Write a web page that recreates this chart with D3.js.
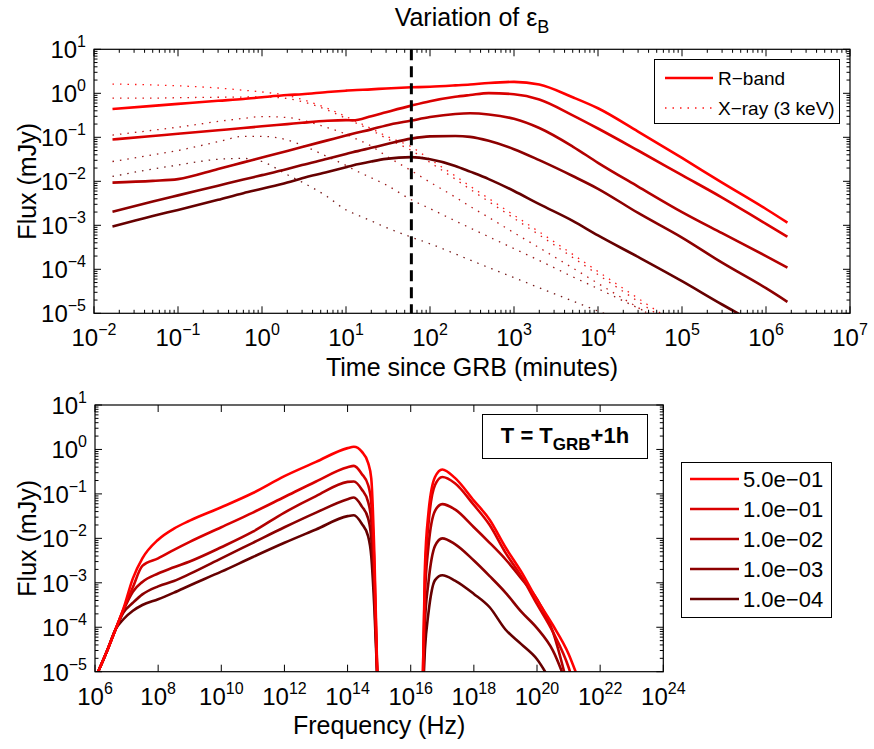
<!DOCTYPE html>
<html><head><meta charset="utf-8">
<script src="https://cdn.jsdelivr.net/npm/d3@7"></script>
<style>
body{margin:0;background:#fff}
text{font-family:"Liberation Sans",Arial,Helvetica,sans-serif;fill:#000}
</style>
</head><body>
<svg id="c" width="874" height="749"></svg>
<script>
// ---------------- DATA ----------------
const epsLabels = ["5.0e\u221201","1.0e\u221201","1.0e\u221202","1.0e\u221203","1.0e\u221204"];
const seriesColors = ["#ff0000","#d90000","#b30000","#8c0000","#660000"];

// light curves: time since GRB (minutes)
const timeMin = [0.0166,0.05,0.1,0.3,0.6,1,2,3,6,10,12,20,30,60,100,200,300,500,1000,2000,5000,1e4,3e4,1e5,3e5,1e6,1.8e6];
// R-band, log10 flux (mJy)
const logR_eps5e1 = [-0.357,-0.285,-0.24,-0.17,-0.13,-0.09,-0.04,-0.02,0.03,0.06,0.07,0.09,0.11,0.136,0.15,0.18,0.2,0.235,0.26,0.2,-0.09,-0.34,-0.87,-1.47,-2.03,-2.63,-2.94];
const logR_eps1e1 = [-1.05,-0.97,-0.92,-0.84,-0.79,-0.75,-0.70,-0.67,-0.625,-0.61,-0.615,-0.52,-0.43,-0.28,-0.18,-0.08,-0.04,0.005,-0.02,-0.14,-0.5,-0.8,-1.3,-1.86,-2.37,-2.97,-3.26];
const logR_eps1e2 = [-2.03,-1.99,-1.95,-1.72,-1.57,-1.46,-1.31,-1.22,-1.07,-0.96,-0.92,-0.82,-0.73,-0.62,-0.54,-0.47,-0.455,-0.48,-0.58,-0.79,-1.21,-1.58,-2.12,-2.70,-3.18,-3.70,-3.96];
const logR_eps1e3 = [-2.69,-2.46,-2.32,-2.10,-1.96,-1.86,-1.72,-1.63,-1.49,-1.38,-1.34,-1.24,-1.16,-1.03,-0.98,-0.97,-0.99,-1.08,-1.27,-1.52,-1.88,-2.17,-2.72,-3.28,-3.85,-4.43,-4.74];
const logR_eps1e4 = [-3.03,-2.79,-2.65,-2.42,-2.27,-2.17,-2.03,-1.93,-1.79,-1.68,-1.64,-1.55,-1.49,-1.45,-1.50,-1.65,-1.78,-1.95,-2.22,-2.52,-2.9,-3.23,-3.72,-4.27,-4.8,-5.35,-5.6];
// X-ray (3 keV), log10 flux (mJy)
const logX_eps5e1 = [0.21,0.19,0.17,0.12,0.07,0.03,-0.05,-0.14,-0.34,-0.53,-0.6,-0.8,-0.97,-1.22,-1.5,-1.88,-2.11,-2.39,-2.77,-3.15,-3.66,-4.05,-4.66,-5.32,null,null,null];
const logX_eps1e1 = [-0.11,-0.11,-0.10,-0.09,-0.085,-0.08,-0.12,-0.19,-0.38,-0.57,-0.64,-0.84,-1.02,-1.3,-1.57,-1.95,-2.18,-2.46,-2.84,-3.22,-3.73,-4.12,-4.73,-5.4,null,null,null];
const logX_eps1e2 = [-0.95,-0.84,-0.77,-0.64,-0.57,-0.53,-0.55,-0.61,-0.78,-0.93,-1.0,-1.2,-1.42,-1.76,-2.02,-2.36,-2.57,-2.82,-3.17,-3.51,-3.97,-4.32,-4.87,-5.47,null,null,null];
const logX_eps1e3 = [-1.55,-1.4,-1.3,-1.1,-0.98,-0.98,-1.06,-1.18,-1.44,-1.64,-1.72,-1.92,-2.08,-2.42,-2.62,-2.9,-3.06,-3.26,-3.53,-3.8,-4.17,-4.44,-4.88,-5.35,null,null,null];
const logX_eps1e4 = [-1.89,-1.72,-1.63,-1.5,-1.48,-1.55,-1.85,-2.02,-2.35,-2.65,-2.72,-2.9,-3.05,-3.27,-3.42,-3.65,-3.79,-3.96,-4.19,-4.42,-4.72,-4.95,-5.3,null,null,null,null];
const obsTimeMin = 60; // T = T_GRB + 1h

// spectra at T = T_GRB + 1h : log10 frequency (Hz), log10 flux (mJy)
const logNuOpt = [6.1,6.4,6.65,6.9,7.2,7.5,8.0,8.5,9.0,10.0,11.0,12.0,13.0,14.0,14.2,14.45,14.65,14.75,14.85,14.95];
const specOpt_eps5e1 = [-5.0,-4.5,-4.05,-3.58,-2.9,-2.45,-2.03,-1.78,-1.6,-1.3,-0.98,-0.6,-0.28,0.03,0.06,-0.05,-0.3,-0.65,-2.4,-5.3];
const specOpt_eps1e1 = [-5.0,-4.5,-4.05,-3.6,-3.1,-2.62,-2.45,-2.26,-2.08,-1.75,-1.42,-1.07,-0.72,-0.4,-0.37,-0.55,-0.8,-1.2,-2.7,-5.3];
const specOpt_eps1e2 = [-5.0,-4.5,-4.05,-3.62,-3.2,-2.98,-2.79,-2.65,-2.52,-2.2,-1.85,-1.42,-1.05,-0.73,-0.72,-0.9,-1.18,-1.6,-3.0,-5.3];
const specOpt_eps1e3 = [-5.0,-4.5,-4.05,-3.67,-3.45,-3.26,-3.08,-2.96,-2.8,-2.45,-2.1,-1.75,-1.42,-1.12,-1.08,-1.28,-1.55,-2.0,-3.3,-5.3];
const specOpt_eps1e4 = [-5.0,-4.5,-4.05,-3.82,-3.63,-3.5,-3.37,-3.22,-3.06,-2.75,-2.42,-2.1,-1.8,-1.5,-1.48,-1.67,-1.95,-2.4,-3.6,-5.3];
const logNuX = [16.38,16.45,16.56,16.77,17.0,17.4,18.0,18.5,19.0,19.5,20.0,20.5,21.0,21.25];
const specX_eps5e1 = [-5.3,-2.64,-1.44,-0.62,-0.45,-0.64,-1.15,-1.58,-2.2,-2.75,-3.38,-3.95,-4.6,-5.05];
const specX_eps1e1 = [-5.3,-2.9,-1.7,-0.8,-0.62,-0.76,-1.25,-1.7,-2.32,-2.85,-3.48,-4.1,-4.9,-5.5];
const specX_eps1e2 = [-5.5,-3.3,-2.2,-1.38,-1.23,-1.35,-1.75,-2.1,-2.47,-2.9,-3.37,-4.1,-5.4,null];
const specX_eps1e3 = [-5.5,-3.9,-3.0,-2.17,-2.0,-2.13,-2.5,-2.85,-3.22,-3.65,-4.02,-4.52,-5.4,null];
const specX_eps1e4 = [-5.6,-4.5,-3.69,-2.94,-2.83,-2.95,-3.25,-3.55,-4.05,-4.38,-4.72,-5.3,null,null];

const topXTickExp = [-2,-1,0,1,2,3,4,5,6,7];
const topYTickExp = [-5,-4,-3,-2,-1,0,1];
const botXTickExp = [6,8,10,12,14,16,18,20,22,24];
const botYTickExp = [-5,-4,-3,-2,-1,0,1];

// ---------------- DRAW ----------------
const svg = d3.select("#c");
const P = v => (v === null ? null : Math.pow(10, v));

const boxT = {l:94, r:850, t:49.3, b:313.3};
const boxB = {l:95, r:663.3, t:405, b:671.7};

const xT = d3.scaleLog().domain([1e-2,1e7]).range([boxT.l, boxT.r]);
const yT = d3.scaleLog().domain([1e-5,1e1]).range([boxT.b, boxT.t]);
const xB = d3.scaleLog().domain([1e6,1e24]).range([boxB.l, boxB.r]);
const yB = d3.scaleLog().domain([1e-5,1e1]).range([boxB.b, boxB.t]);

const defs = svg.append("defs");
defs.append("clipPath").attr("id","clipT").append("rect")
  .attr("x",boxT.l).attr("y",boxT.t).attr("width",boxT.r-boxT.l).attr("height",boxT.b-boxT.t);
defs.append("clipPath").attr("id","clipB").append("rect")
  .attr("x",boxB.l).attr("y",boxB.t).attr("width",boxB.r-boxB.l).attr("height",boxB.b-boxB.t);

const TICK_FS = 24, SUP_FS = 16, SUP_DY = 11, LABEL_FS = 25;

function powLabel(g, x, y, exp, anchor){
  const t = g.append("text").attr("x",x).attr("y",y).attr("text-anchor",anchor)
    .style("font-size",TICK_FS+"px");
  t.append("tspan").text("10");
  t.append("tspan").attr("dy",-SUP_DY).style("font-size",SUP_FS+"px")
    .text(exp < 0 ? "\u2212"+(-exp) : String(exp));
  return t;
}

function frame(box, x, y, xExps, yExps, xMinor, yMinor){
  const g = svg.append("g");
  const M = 7, m = 3.5;
  const lines = [];
  const xd = x.domain().map(Math.log10);
  for (let e = Math.round(xd[0]); e <= Math.round(xd[1]); e++){
    if (xExps.includes(e)) lines.push([x(Math.pow(10,e)), M, "x"]);
    if (xMinor && e < Math.round(xd[1])) for (let k=2;k<=9;k++) lines.push([x(k*Math.pow(10,e)), m, "x"]);
  }
  const yd = y.domain().map(Math.log10);
  for (let e = Math.round(yd[0]); e <= Math.round(yd[1]); e++){
    if (yExps.includes(e)) lines.push([y(Math.pow(10,e)), M, "y"]);
    if (yMinor && e < Math.round(yd[1])) for (let k=2;k<=9;k++) lines.push([y(k*Math.pow(10,e)), m, "y"]);
  }
  lines.forEach(([p,len,ax])=>{
    if (ax==="x"){
      g.append("line").attr("x1",p).attr("x2",p).attr("y1",box.b).attr("y2",box.b-len);
      g.append("line").attr("x1",p).attr("x2",p).attr("y1",box.t).attr("y2",box.t+len);
    } else {
      g.append("line").attr("y1",p).attr("y2",p).attr("x1",box.l).attr("x2",box.l+len);
      g.append("line").attr("y1",p).attr("y2",p).attr("x1",box.r).attr("x2",box.r-len);
    }
  });
  g.selectAll("line").attr("stroke","#000").attr("stroke-width",1);
  g.append("rect").attr("x",box.l).attr("y",box.t).attr("width",box.r-box.l).attr("height",box.b-box.t)
    .attr("fill","none").attr("stroke","#000").attr("stroke-width",1.2);
  xExps.forEach(e=> powLabel(g, x(Math.pow(10,e)), box.b+33, e, "middle"));
  yExps.forEach(e=> powLabel(g, box.l-8, y(Math.pow(10,e))+9, e, "end"));
  return g;
}

// ---------- top panel ----------
const gT = svg.append("g").attr("clip-path","url(#clipT)");
const lineT = d3.line().defined(d=>d[1]!==null)
  .x(d=>xT(d[0])).y(d=>yT(d[1])).curve(d3.curveMonotoneX);
const rSeries = [logR_eps5e1,logR_eps1e1,logR_eps1e2,logR_eps1e3,logR_eps1e4];
const xSeries = [logX_eps5e1,logX_eps1e1,logX_eps1e2,logX_eps1e3,logX_eps1e4];
xSeries.forEach((s,i)=>{
  gT.append("path").datum(timeMin.map((t,j)=>[t,P(s[j])]))
    .attr("d",lineT).attr("fill","none").attr("stroke",seriesColors[i])
    .attr("stroke-width",1.3).attr("stroke-dasharray","1.5,6").attr("opacity",0.9);
});
rSeries.forEach((s,i)=>{
  gT.append("path").datum(timeMin.map((t,j)=>[t,P(s[j])]))
    .attr("d",lineT).attr("fill","none").attr("stroke",seriesColors[i])
    .attr("stroke-width",2.6).attr("stroke-linejoin","round");
});
gT.append("line").attr("x1",xT(obsTimeMin)).attr("x2",xT(obsTimeMin))
  .attr("y1",boxT.t).attr("y2",boxT.b).attr("stroke","#000").attr("stroke-width",3)
  .attr("stroke-dasharray","11,6");

frame(boxT, xT, yT, topXTickExp, topYTickExp, true, true);

// top legend
const lg = svg.append("g");
lg.append("rect").attr("x",654.5).attr("y",59.5).attr("width",185).attr("height",64)
  .attr("fill","#fff").attr("stroke","#000").attr("stroke-width",1);
lg.append("line").attr("x1",665).attr("x2",713).attr("y1",78).attr("y2",78)
  .attr("stroke",seriesColors[0]).attr("stroke-width",2.6);
lg.append("line").attr("x1",665).attr("x2",713).attr("y1",108).attr("y2",108)
  .attr("stroke",seriesColors[0]).attr("stroke-width",1.3).attr("stroke-dasharray","1.5,6").attr("opacity",0.9);
lg.append("text").attr("x",718).attr("y",85).style("font-size","19px").text("R\u2212band");
lg.append("text").attr("x",718).attr("y",115).style("font-size","19px").text("X\u2212ray (3 keV)");

// title
const tt = svg.append("text").attr("x",(boxT.l+boxT.r)/2).attr("y",26).attr("text-anchor","middle")
  .style("font-size","25px");
tt.append("tspan").text("Variation of \u03b5");
tt.append("tspan").attr("dy",7).style("font-size","18px").text("B");

svg.append("text").attr("x",(boxT.l+boxT.r)/2).attr("y",376).attr("text-anchor","middle")
  .style("font-size",LABEL_FS+"px").text("Time since GRB (minutes)");
svg.append("text").attr("transform",`translate(36,${(boxT.t+boxT.b)/2}) rotate(-90)`)
  .attr("text-anchor","middle").style("font-size",LABEL_FS+"px").text("Flux (mJy)");

// ---------- bottom panel ----------
const gB = svg.append("g").attr("clip-path","url(#clipB)");
const lineB = d3.line().defined(d=>d[1]!==null)
  .x(d=>xB(d[0])).y(d=>yB(d[1])).curve(d3.curveMonotoneX);
const optSeries = [specOpt_eps5e1,specOpt_eps1e1,specOpt_eps1e2,specOpt_eps1e3,specOpt_eps1e4];
const xrSeries = [specX_eps5e1,specX_eps1e1,specX_eps1e2,specX_eps1e3,specX_eps1e4];
for (let i=4;i>=0;i--){
  gB.append("path").datum(logNuOpt.map((n,j)=>[P(n),P(optSeries[i][j])]))
    .attr("d",lineB).attr("fill","none").attr("stroke",seriesColors[i])
    .attr("stroke-width",2.6).attr("stroke-linejoin","round");
  gB.append("path").datum(logNuX.map((n,j)=>[P(n),P(xrSeries[i][j])]))
    .attr("d",lineB).attr("fill","none").attr("stroke",seriesColors[i])
    .attr("stroke-width",2.6).attr("stroke-linejoin","round");
}
frame(boxB, xB, yB, botXTickExp, botYTickExp, false, true);

// annotation box
const ab = svg.append("g");
ab.append("rect").attr("x",482.5).attr("y",414.5).attr("width",165).attr("height",44)
  .attr("fill","#fff").attr("stroke","#000").attr("stroke-width",1);
const at = ab.append("text").attr("x",565).attr("y",443).attr("text-anchor","middle")
  .style("font-size","22px").style("font-weight","bold");
at.append("tspan").text("T = T");
at.append("tspan").attr("dy",7).style("font-size","17px").text("GRB");
at.append("tspan").attr("dy",-7).text("+1h");

// bottom legend
const bl = svg.append("g");
bl.append("rect").attr("x",681.5).attr("y",462.5).attr("width",150).attr("height",155)
  .attr("fill","#fff").attr("stroke","#000").attr("stroke-width",1);
epsLabels.forEach((lab,i)=>{
  const yy = 479 + i*30;
  bl.append("line").attr("x1",690).attr("x2",739).attr("y1",yy).attr("y2",yy)
    .attr("stroke",seriesColors[i]).attr("stroke-width",2.6);
  bl.append("text").attr("x",743).attr("y",yy+8).style("font-size","22px").text(lab);
});

svg.append("text").attr("x",(boxB.l+boxB.r)/2).attr("y",734).attr("text-anchor","middle")
  .style("font-size",LABEL_FS+"px").text("Frequency (Hz)");
svg.append("text").attr("transform",`translate(36,${(boxB.t+boxB.b)/2}) rotate(-90)`)
  .attr("text-anchor","middle").style("font-size",LABEL_FS+"px").text("Flux (mJy)");
</script>
</body></html>
